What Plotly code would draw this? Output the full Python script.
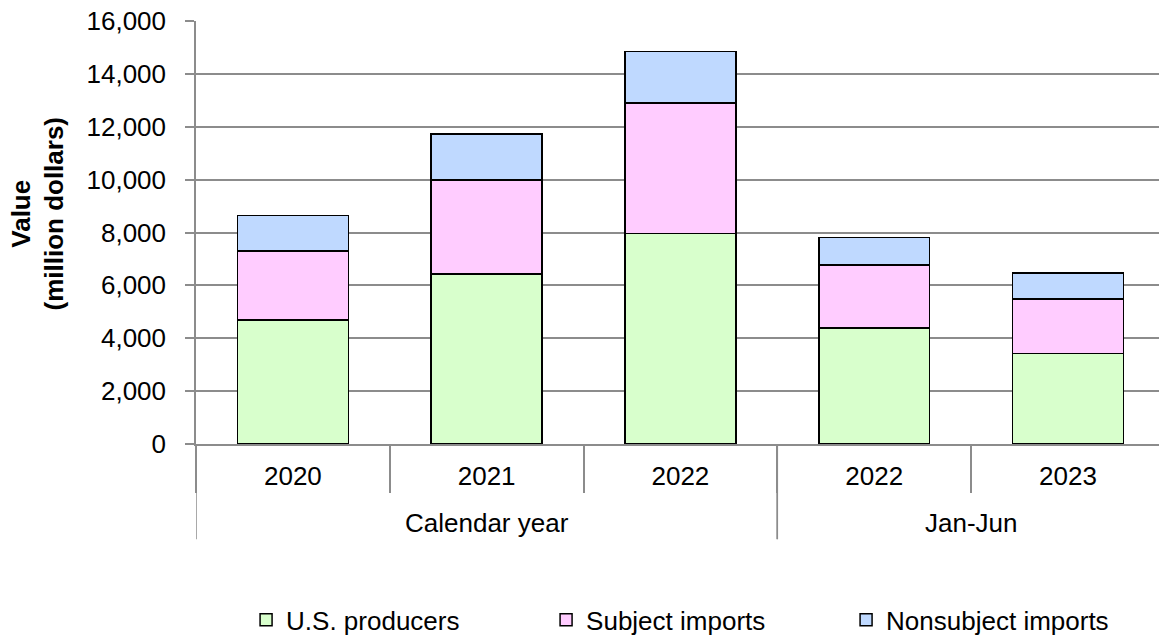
import plotly.graph_objects as go

periods = ["Calendar year", "Calendar year", "Calendar year", "Jan-Jun", "Jan-Jun"]
years = ["2020", "2021", "2022", "2022", "2023"]
us_producers = [4682, 6437, 7969, 4390, 3419]
subject_imports = [2627, 3541, 4928, 2388, 2059]
nonsubject_imports = [1342, 1744, 1956, 1039, 997]
series_names = ["U.S. producers", "Subject imports", "Nonsubject imports"]
colors = ["#D8FFCC", "#FFCCFF", "#BFD9FF"]

FONT = "Liberation Sans, Arial, sans-serif"
GRID = "#8C8C8C"
FS = 26

xpos = list(range(len(years)))

fig = go.Figure()
for name, vals, col in zip(series_names, [us_producers, subject_imports, nonsubject_imports], colors):
    fig.add_trace(go.Bar(
        x=xpos, y=vals, name=name,
        marker=dict(color=col, line=dict(color="black", width=1.5)),
    ))

# group labels and long dividers derived from the period list
groups = []
for i, p in enumerate(periods):
    if not groups or groups[-1][0] != p:
        groups.append([p, i, i])
    else:
        groups[-1][2] = i

annotations = []
shapes = []
for p, i0, i1 in groups:
    annotations.append(dict(x=(i0 + i1) / 2, xref="x", y=-0.186, yref="paper",
                            text=p, showarrow=False, font=dict(size=FS, color="black"),
                            xanchor="center", yanchor="middle"))
    for b in (i0 - 0.5, i1 + 0.5):
        shapes.append(dict(type="line", xref="x", yref="paper", x0=b, x1=b, y0=0, y1=-0.225,
                           line=dict(color=GRID, width=1.5), layer="below"))

annotations.append(dict(x=-0.164, xref="paper", y=0.545, yref="paper",
                        text="<b>Value<br>(million dollars)</b>", showarrow=False,
                        textangle=-90, font=dict(size=FS, color="black"),
                        xanchor="center", yanchor="middle"))

fig.update_layout(
    width=1159, height=635,
    barmode="stack", bargap=0.428,
    plot_bgcolor="white", paper_bgcolor="white",
    margin=dict(l=196, r=0, t=21, b=191),
    font=dict(family=FONT, size=FS, color="black"),
    showlegend=True,
    legend=dict(orientation="h", x=0.052, xanchor="left",
                yref="container", y=0.024, yanchor="middle",
                traceorder="normal", entrywidth=255, entrywidthmode="pixels",
                itemwidth=30, font=dict(size=FS)),
    xaxis=dict(range=[-0.5, 4.47], tickmode="array", tickvals=xpos, ticktext=years,
               showgrid=False, zeroline=False, automargin=False,
               showline=True, linecolor=GRID, linewidth=1.5,
               ticks="", ticklabelstandoff=8,
               minor=dict(tick0=0.5, dtick=1, ticks="outside", ticklen=47, tickcolor=GRID,
                          tickwidth=1.5, showgrid=False),
               tickfont=dict(size=FS, color="black")),
    yaxis=dict(range=[0, 16000], dtick=2000, tickformat=",d",
               showgrid=True, gridcolor=GRID, gridwidth=1.5, zeroline=False, automargin=False,
               showline=True, linecolor=GRID, linewidth=1.5,
               ticks="outside", ticklen=9, tickcolor=GRID, tickwidth=1.5,
               ticklabelstandoff=14,
               tickfont=dict(size=FS, color="black")),
    annotations=annotations,
    shapes=shapes,
)

fig.write_html("out.html")
